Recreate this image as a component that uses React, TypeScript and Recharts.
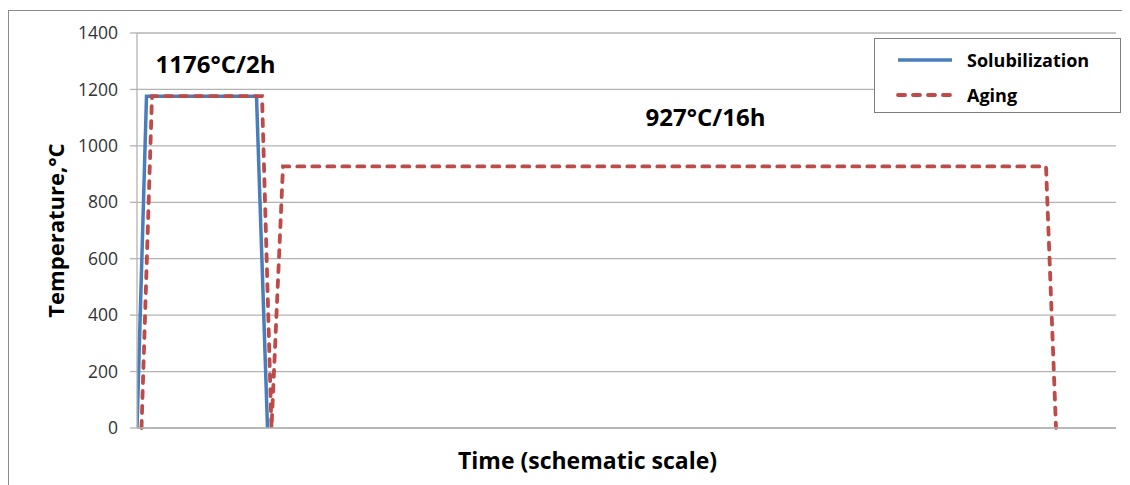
// Heat treatment schedule: solubilization + aging (schematic time axis)
import {
  LineChart, Line, XAxis, YAxis, CartesianGrid, ReferenceDot, Label,
} from 'recharts';

// time in schematic units, temperature in °C
const solubilizationTime = [0, 9.5, 119.5, 130.5];
const solubilizationTemp = [0, 1176, 1176, 0];

const agingTime = [4.5, 15, 125, 134.5, 146, 909, 919];
const agingTemp = [0, 1176, 1176, 0, 927, 927, 0];

const tempTicks = [0, 200, 400, 600, 800, 1000, 1200, 1400];
const timeDomain = [0, 979];

const annotations = [
  { t: 78.5, temp: 1290, text: '1176°C/2h' },
  { t: 568.5, temp: 1100, text: '927°C/16h' },
];

const BLUE = '#4a7ebb';
const RED = '#be4b48';
const GRID = '#b3b3b3';
const FONT = '"Open Sans", "DejaVu Sans", sans-serif';

const series = [
  { name: 'Solubilization', color: BLUE, width: 3.5, dash: undefined as string | undefined },
  { name: 'Aging', color: RED, width: 3.8, dash: '7 8' },
];

const solubilizationData = solubilizationTime.map((t, i) => ({ t, temp: solubilizationTemp[i] }));
const agingData = agingTime.map((t, i) => ({ t, temp: agingTemp[i] }));

// eslint-disable-next-line @typescript-eslint/no-explicit-any
function YTitle(props: any) {
  const { viewBox } = props;
  const cx = viewBox.x + 37;
  const cy = viewBox.y + viewBox.height / 2;
  return (
    <text
      x={cx}
      y={cy}
      transform={`rotate(-90, ${cx}, ${cy})`}
      textAnchor="middle"
      dominantBaseline="central"
      fontFamily={FONT}
      fontWeight={700}
      fontSize={22}
      fill="#000"
    >
      Temperature,°C
    </text>
  );
}

// x title sits a little left of the plot centre in the original
// eslint-disable-next-line @typescript-eslint/no-explicit-any
function XTitle(props: any) {
  const { viewBox } = props;
  const cx = viewBox.x + viewBox.width / 2 - 39;
  const by = viewBox.y + viewBox.height - 16;
  return (
    <text
      x={cx}
      y={by}
      textAnchor="middle"
      fontFamily={FONT}
      fontWeight={700}
      fontSize={23}
      fill="#000"
    >
      Time (schematic scale)
    </text>
  );
}

// legend box drawn over the plot, top right
function LegendBox() {
  return (
    <div
      style={{
        position: 'absolute',
        left: 866,
        top: 30,
        width: 247,
        height: 75,
        border: '1.5px solid #7f7f7f',
        background: '#fff',
        boxSizing: 'border-box',
        paddingTop: 3,
      }}
    >
      {series.map((s) => (
        <div key={s.name} style={{ display: 'flex', alignItems: 'center', height: 35 }}>
          <svg width={72} height={10} style={{ marginLeft: 20 }}>
            <line
              x1={3}
              x2={57}
              y1={5}
              y2={5}
              stroke={s.color}
              strokeWidth={s.width}
              strokeDasharray={s.dash}
              strokeLinecap={s.dash ? 'round' : 'butt'}
            />
          </svg>
          <span style={{ fontFamily: FONT, fontWeight: 700, fontSize: 18, color: '#000' }}>{s.name}</span>
        </div>
      ))}
    </div>
  );
}

export default function App() {
  return (
    <div style={{ position: 'relative', width: 1122, height: 477, overflow: 'hidden' }}>
      <div
        style={{
          position: 'absolute',
          left: 0,
          top: 2,
          width: 1200,
          height: 600,
          borderLeft: '1px solid #8c8c8c',
          borderTop: '1px solid #8c8c8c',
        }}
      />
      <LineChart
        width={1122}
        height={477}
        margin={{ top: 25, right: 14, bottom: 0, left: 10 }}
        style={{ position: 'absolute', left: 0, top: 0 }}
      >
        <CartesianGrid vertical={false} stroke={GRID} strokeWidth={1.3} />
        <XAxis
          type="number"
          dataKey="t"
          domain={timeDomain}
          allowDataOverflow
          tick={false}
          tickLine={false}
          axisLine={{ stroke: GRID, strokeWidth: 1.3 }}
          height={57}
        >
          <Label content={<XTitle />} />
        </XAxis>
        <YAxis
          type="number"
          dataKey="temp"
          domain={[0, 1400]}
          ticks={tempTicks}
          width={119}
          tickSize={7}
          tickMargin={12}
          axisLine={{ stroke: GRID, strokeWidth: 1.3 }}
          tickLine={{ stroke: GRID, strokeWidth: 1.3 }}
          tick={{ fill: '#333', fontSize: 17.5, fontFamily: FONT }}
        >
          <Label content={<YTitle />} />
        </YAxis>
        <Line
          name={series[0].name}
          data={solubilizationData}
          dataKey="temp"
          type="linear"
          stroke={series[0].color}
          strokeWidth={series[0].width}
          dot={false}
          isAnimationActive={false}
        />
        <Line
          name={series[1].name}
          data={agingData}
          dataKey="temp"
          type="linear"
          stroke={series[1].color}
          strokeWidth={series[1].width}
          strokeDasharray={series[1].dash}
          strokeLinecap="round"
          dot={false}
          isAnimationActive={false}
        />
        {annotations.map((a) => (
          <ReferenceDot
            key={a.text}
            x={a.t}
            y={a.temp}
            r={0}
            fill="none"
            stroke="none"
            label={{
              value: a.text,
              position: 'center',
              style: { fontFamily: FONT, fontWeight: 700, fontSize: 24, fill: '#000' },
            }}
          />
        ))}
      </LineChart>
      <LegendBox />
    </div>
  );
}
